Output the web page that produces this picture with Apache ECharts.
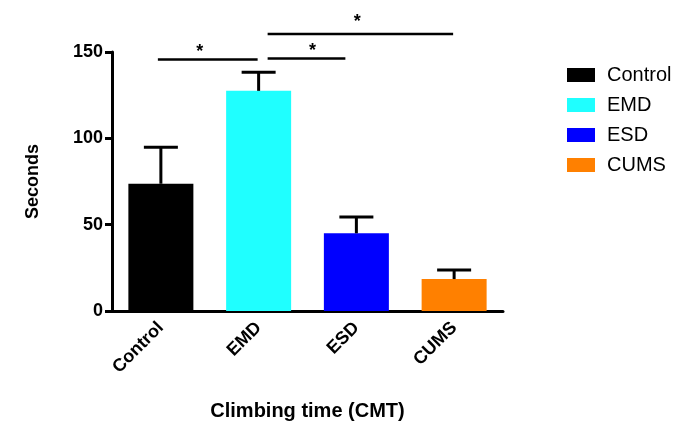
<!DOCTYPE html>
<html>
<head>
<meta charset="utf-8">
<script src="https://cdn.jsdelivr.net/npm/echarts@6/dist/echarts.min.js"></script>
<style>
  html, body { margin: 0; padding: 0; background: #fff; }
  #chart { width: 687px; height: 422px; }
</style>
</head>
<body>
<div id="chart"></div>
<script>
const groups = ['Control', 'EMD', 'ESD', 'CUMS'];
const means = [73.7, 127.5, 45, 18.5];
const errTops = [94.8, 138.3, 54.4, 23.7];
const colors = ['#000000', '#1fffff', '#0000ff', '#ff8000'];
const yTicks = { min: 0, max: 150, interval: 50 };

// significance brackets: from group, to group, height (seconds)
const sigFrom = [0, 1, 1];
const sigTo = [1, 2, 3];
const sigLevel = [145.7, 146.3, 160.4];
const sigLabel = ['*', '*', '*'];

const font = '"Liberation Sans", Arial, sans-serif';
const chart = echarts.init(document.getElementById('chart'));

// one series per group so the legend shows each colour
const barSeries = groups.map((g, i) => ({
  name: g,
  type: 'bar',
  barWidth: 65,
  barGap: '-100%',
  itemStyle: { color: colors[i] },
  data: groups.map((_, j) => (j === i ? means[i] : '-'))
}));

// pixel nudges so brackets and stars sit like the original:
// [start dx, end dx, star dx, star dy]
const sigNudge = [[-3, -1, -8, 0], [9, -11, 6, 0], [9, -1, -3, -5]];

chart.setOption({
  animation: false,
  grid: { left: 112, right: 184, top: 52, bottom: 111, outerBoundsMode: 'none' },
  legend: {
    orient: 'vertical',
    left: 562,
    top: 60,
    itemWidth: 28,
    itemHeight: 14,
    itemGap: 10,
    icon: 'rect',
    textStyle: { fontFamily: font, fontSize: 20, color: '#000', padding: [0, 0, 0, 7] },
    data: groups
  },
  xAxis: {
    type: 'category',
    data: groups,
    name: 'Climbing time (CMT)',
    nameLocation: 'middle',
    nameGap: 90,
    nameTextStyle: { fontFamily: font, fontSize: 20, fontWeight: 'bold', color: '#000' },
    axisLine: { lineStyle: { color: '#000', width: 3 } },
    axisTick: { alignWithLabel: true, length: 7, lineStyle: { color: '#000', width: 3 } },
    axisLabel: { rotate: 45, margin: 14, fontFamily: font, fontSize: 18, fontWeight: 'bold', color: '#000' }
  },
  yAxis: {
    type: 'value',
    min: yTicks.min,
    max: yTicks.max,
    interval: yTicks.interval,
    name: 'Seconds',
    nameLocation: 'middle',
    nameGap: 70,
    nameRotate: 90,
    nameTextStyle: { fontFamily: font, fontSize: 18, fontWeight: 'bold', color: '#000' },
    splitLine: { show: false },
    axisLine: { show: true, lineStyle: { color: '#000', width: 3 } },
    axisTick: { show: true, length: 7, lineStyle: { color: '#000', width: 3 } },
    axisLabel: { margin: 9, fontFamily: font, fontSize: 18, fontWeight: 'bold', color: '#000' }
  },
  series: barSeries.concat([
    {
      type: 'custom',
      name: 'error',
      z: 5,
      data: groups.map((_, i) => [i, means[i], errTops[i]]),
      renderItem: (params, api) => {
        const base = api.coord([api.value(0), api.value(1)]);
        const top = api.coord([api.value(0), api.value(2)]);
        const half = 17;
        const st = { stroke: '#000', lineWidth: 3 };
        return {
          type: 'group',
          children: [
            { type: 'line', shape: { x1: base[0], y1: base[1], x2: top[0], y2: top[1] }, style: st },
            { type: 'line', shape: { x1: top[0] - half, y1: top[1], x2: top[0] + half, y2: top[1] }, style: st }
          ]
        };
      }
    },
    {
      type: 'custom',
      name: 'sig',
      clip: false,
      z: 6,
      data: sigFrom.map((f, i) => [f, sigTo[i], sigLevel[i], i]),
      renderItem: (params, api) => {
        const k = api.value(3);
        const n = sigNudge[k];
        const a = api.coord([api.value(0), api.value(2)]);
        const b = api.coord([api.value(1), api.value(2)]);
        const x1 = a[0] + n[0];
        const x2 = b[0] + n[1];
        return {
          type: 'group',
          children: [
            { type: 'line', shape: { x1: x1, y1: a[1], x2: x2, y2: a[1] }, style: { stroke: '#000', lineWidth: 2.5 } },
            {
              type: 'text',
              style: {
                text: sigLabel[k], x: (x1 + x2) / 2 + n[2], y: a[1] + 2 + n[3],
                align: 'center', verticalAlign: 'bottom',
                font: 'bold 18px ' + font, fill: '#000'
              }
            }
          ]
        };
      }
    }
  ])
});
</script>
</body>
</html>
